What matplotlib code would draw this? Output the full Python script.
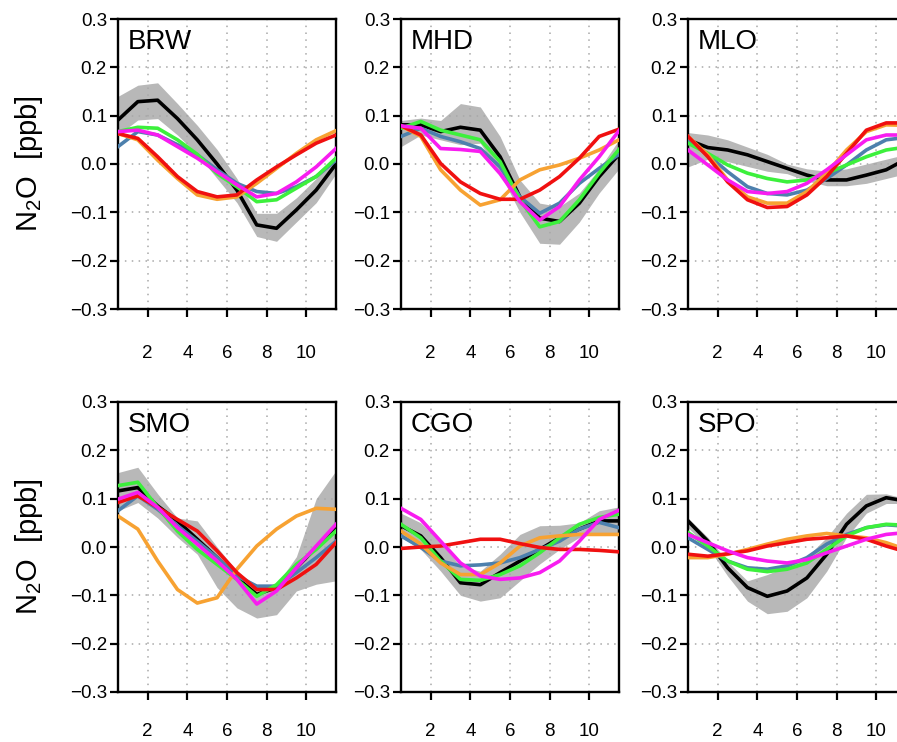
import matplotlib
matplotlib.use("Agg")
import matplotlib.pyplot as plt
import numpy as np

plt.rcParams['font.family'] = ['Liberation Sans', 'DejaVu Sans']
plt.rcParams['mathtext.fontset'] = 'custom'
plt.rcParams['mathtext.rm'] = 'Liberation Sans'
plt.rcParams['mathtext.it'] = 'Liberation Sans'

# monthly mean seasonal cycle, vertices sit half a month left of the tick
month_pos = np.arange(12) + 0.5
xticks = [2, 4, 6, 8, 10]
yticks = [-0.3, -0.2, -0.1, 0.0, 0.1, 0.2, 0.3]

stations = ['BRW', 'MHD', 'MLO', 'SMO', 'CGO', 'SPO']

# obs = black line, lo/hi = grey band, the rest = model runs by colour
brw = dict(
    obs=[0.091, 0.129, 0.132, 0.094, 0.050, 0.000, -0.054, -0.126, -0.133, -0.095, -0.054, 0.000],
    hi=[0.140, 0.163, 0.168, 0.125, 0.080, 0.030, -0.030, -0.102, -0.102, -0.070, -0.030, 0.020],
    lo=[0.060, 0.091, 0.094, 0.060, 0.020, -0.030, -0.080, -0.150, -0.160, -0.120, -0.080, -0.020],
    blue=[0.036, 0.067, 0.060, 0.040, 0.019, -0.012, -0.040, -0.057, -0.061, -0.047, -0.026, 0.008],
    green=[0.067, 0.076, 0.074, 0.050, 0.020, -0.020, -0.047, -0.078, -0.074, -0.050, -0.026, 0.012],
    orange=[0.063, 0.050, 0.008, -0.030, -0.064, -0.073, -0.068, -0.040, -0.009, 0.022, 0.050, 0.069],
    red=[0.063, 0.053, 0.015, -0.026, -0.057, -0.068, -0.064, -0.033, -0.006, 0.019, 0.043, 0.060],
    magenta=[0.067, 0.070, 0.060, 0.036, 0.012, -0.016, -0.043, -0.068, -0.061, -0.037, -0.006, 0.032],
)
mhd = dict(
    obs=[0.081, 0.081, 0.067, 0.076, 0.070, 0.015, -0.068, -0.112, -0.119, -0.081, -0.026, 0.020],
    hi=[0.090, 0.095, 0.090, 0.125, 0.118, 0.057, -0.033, -0.081, -0.088, -0.060, -0.010, 0.050],
    lo=[0.036, 0.060, 0.050, 0.040, 0.043, -0.020, -0.100, -0.164, -0.166, -0.120, -0.060, -0.010],
    blue=[0.057, 0.074, 0.057, 0.046, 0.032, -0.006, -0.068, -0.102, -0.081, -0.040, -0.009, 0.020],
    green=[0.074, 0.088, 0.070, 0.060, 0.050, 0.005, -0.074, -0.130, -0.119, -0.074, -0.019, 0.030],
    orange=[0.079, 0.057, -0.012, -0.054, -0.085, -0.074, -0.033, -0.012, -0.002, 0.012, 0.029, 0.050],
    red=[0.079, 0.060, 0.001, -0.037, -0.061, -0.073, -0.073, -0.054, -0.026, 0.012, 0.057, 0.072],
    magenta=[0.079, 0.074, 0.032, 0.030, 0.026, -0.020, -0.078, -0.116, -0.088, -0.033, 0.015, 0.069],
)
mlo = dict(
    obs=[0.050, 0.034, 0.029, 0.019, 0.005, -0.009, -0.023, -0.033, -0.033, -0.023, -0.012, 0.010],
    hi=[0.065, 0.060, 0.050, 0.035, 0.020, 0.000, -0.010, -0.015, -0.010, 0.000, 0.010, 0.020],
    lo=[-0.006, 0.010, 0.005, -0.005, -0.015, -0.020, -0.035, -0.045, -0.045, -0.040, -0.030, -0.020],
    blue=[0.050, 0.019, -0.016, -0.047, -0.061, -0.064, -0.054, -0.030, -0.002, 0.029, 0.050, 0.055],
    green=[0.043, 0.022, -0.002, -0.019, -0.030, -0.037, -0.033, -0.019, -0.002, 0.015, 0.029, 0.035],
    orange=[0.057, 0.019, -0.033, -0.068, -0.081, -0.081, -0.057, -0.019, 0.029, 0.067, 0.081, 0.080],
    red=[0.057, 0.015, -0.037, -0.074, -0.090, -0.088, -0.064, -0.026, 0.022, 0.070, 0.085, 0.085],
    magenta=[0.029, -0.002, -0.033, -0.057, -0.061, -0.057, -0.040, -0.012, 0.019, 0.050, 0.060, 0.060],
)
smo = dict(
    obs=[0.116, 0.123, 0.085, 0.054, 0.016, -0.022, -0.064, -0.098, -0.084, -0.043, -0.001, 0.040],
    hi=[0.154, 0.165, 0.110, 0.060, 0.054, 0.000, -0.050, -0.080, -0.078, -0.020, 0.100, 0.158],
    lo=[0.075, 0.092, 0.060, 0.020, -0.015, -0.084, -0.126, -0.147, -0.140, -0.091, -0.077, -0.070],
    blue=[0.075, 0.106, 0.078, 0.044, 0.012, -0.022, -0.060, -0.081, -0.081, -0.053, -0.022, 0.012],
    green=[0.127, 0.134, 0.082, 0.033, -0.005, -0.036, -0.067, -0.102, -0.078, -0.036, -0.005, 0.033],
    orange=[0.064, 0.037, -0.029, -0.088, -0.116, -0.105, -0.046, 0.002, 0.037, 0.064, 0.080, 0.078],
    red=[0.092, 0.106, 0.082, 0.057, 0.033, -0.008, -0.053, -0.088, -0.088, -0.064, -0.036, 0.009],
    magenta=[0.099, 0.113, 0.082, 0.040, 0.006, -0.029, -0.067, -0.118, -0.091, -0.043, 0.002, 0.047],
)
cgo = dict(
    obs=[0.044, 0.023, -0.022, -0.074, -0.078, -0.053, -0.029, -0.005, 0.019, 0.037, 0.054, 0.054],
    hi=[0.070, 0.050, 0.010, -0.040, -0.050, -0.015, 0.026, 0.044, 0.045, 0.050, 0.075, 0.083],
    lo=[0.020, -0.005, -0.050, -0.100, -0.112, -0.105, -0.070, -0.035, -0.005, 0.020, 0.030, 0.030],
    blue=[0.023, -0.001, -0.029, -0.039, -0.037, -0.033, -0.022, -0.005, 0.012, 0.037, 0.051, 0.040],
    green=[0.047, 0.019, -0.029, -0.067, -0.069, -0.057, -0.039, -0.012, 0.019, 0.047, 0.061, 0.068],
    orange=[0.033, 0.006, -0.033, -0.057, -0.057, -0.033, 0.002, 0.019, 0.023, 0.026, 0.026, 0.026],
    red=[-0.003, 0.000, 0.002, 0.009, 0.016, 0.016, 0.007, -0.001, -0.005, -0.005, -0.007, -0.010],
    magenta=[0.080, 0.057, 0.012, -0.033, -0.060, -0.067, -0.064, -0.053, -0.029, 0.012, 0.057, 0.076],
)
spo = dict(
    obs=[0.054, 0.012, -0.043, -0.084, -0.102, -0.091, -0.064, -0.015, 0.047, 0.085, 0.102, 0.095],
    hi=[0.060, 0.020, -0.030, -0.070, -0.057, -0.040, -0.020, 0.020, 0.070, 0.109, 0.110, 0.100],
    lo=[0.040, 0.000, -0.060, -0.112, -0.138, -0.133, -0.105, -0.050, 0.020, 0.070, 0.090, 0.090],
    blue=[0.019, -0.005, -0.029, -0.043, -0.046, -0.039, -0.022, 0.006, 0.026, 0.040, 0.046, 0.043],
    green=[0.030, 0.002, -0.029, -0.046, -0.051, -0.046, -0.033, -0.005, 0.023, 0.040, 0.047, 0.045],
    orange=[-0.022, -0.022, -0.015, -0.005, 0.006, 0.016, 0.023, 0.028, 0.023, 0.019, 0.009, -0.005],
    red=[-0.015, -0.019, -0.014, -0.008, 0.002, 0.009, 0.016, 0.019, 0.023, 0.016, 0.002, -0.010],
    magenta=[0.026, 0.009, -0.008, -0.022, -0.029, -0.033, -0.026, -0.012, 0.002, 0.016, 0.026, 0.030],
)
panels = [brw, mhd, mlo, smo, cgo, spo]

model_colors = {
    'blue': '#4d80ad',
    'green': '#3cf03c',
    'orange': '#f7a232',
    'red': '#f01010',
    'magenta': '#f81cf0',
}

fig = plt.figure(figsize=(8.97, 7.42), dpi=100)

# panel boxes in pixels (left, top) -- right column runs off the page like the original
lefts = [118, 401, 688]
tops = [19, 402]
w_px, h_px = 218, 290
xpads = [20, 16]

ylabels = [('%.1f' % v).replace('-', '\u2212') for v in yticks]

for k, (name, d) in enumerate(zip(stations, panels)):
    row, col = divmod(k, 3)
    left = lefts[col] / 897
    bottom = 1 - (tops[row] + h_px) / 742
    ax = fig.add_axes([left, bottom, w_px / 897, h_px / 742])

    ax.fill_between(month_pos, d['lo'], d['hi'], color='#b8b8b8', lw=0, zorder=1)
    ax.plot(month_pos, d['obs'], color='black', lw=2.6, zorder=2)
    for key, c in model_colors.items():
        ax.plot(month_pos, d[key], color=c, lw=2.6, zorder=3)

    ax.set_xlim(0.5, 11.5)
    ax.set_ylim(-0.3, 0.3)
    ax.set_xticks(xticks)
    ax.set_yticks(yticks)
    ax.set_yticklabels(ylabels)
    ax.grid(True, color='#a8a8a8', linestyle=(0, (1, 3.5)), lw=1.1)
    ax.tick_params(axis='both', direction='out', length=6, width=1.6, labelsize=13.5)
    ax.tick_params(axis='x', pad=xpads[row])
    ax.tick_params(axis='y', pad=2)
    for s in ax.spines.values():
        s.set_linewidth(1.7)

    ax.text(0.045, 0.965, name, transform=ax.transAxes, fontsize=20,
            ha='left', va='top')

    if col == 0:
        ax.set_ylabel('N$_2$O  [ppb]', fontsize=21, va='center')
        ax.yaxis.set_label_coords(-0.41, 0.5)

fig.savefig('out.png', dpi=100)
